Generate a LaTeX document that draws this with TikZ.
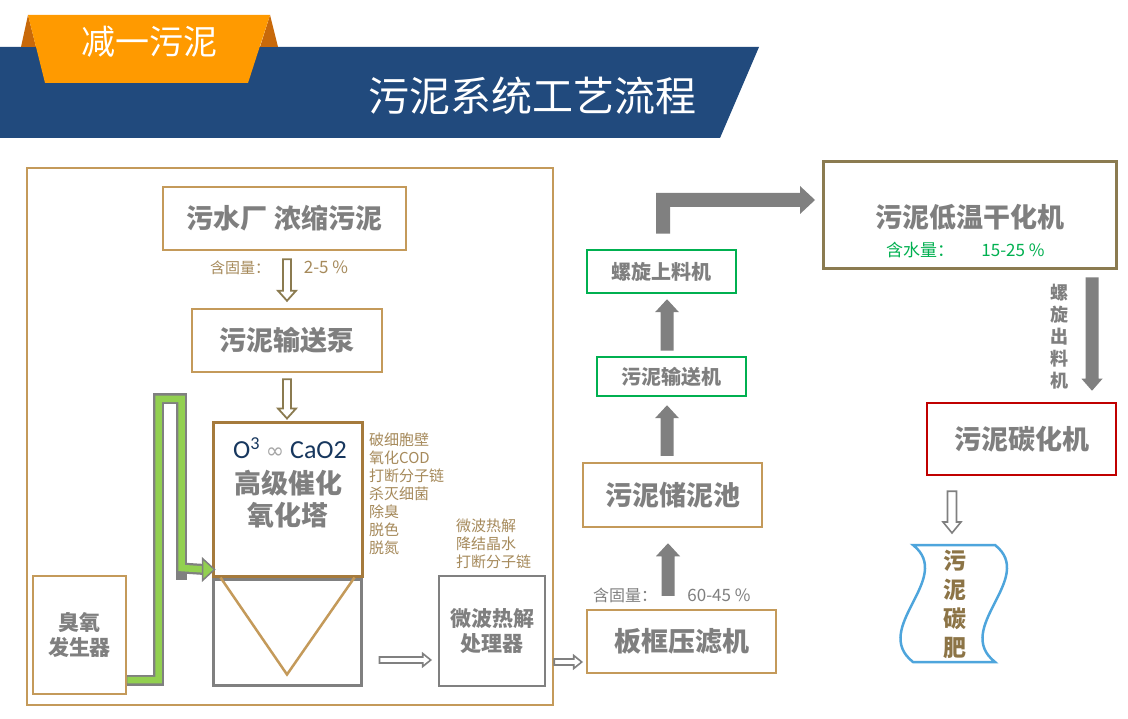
\documentclass[tikz,border=0pt]{standalone}
\usepackage{fontspec}
\setmainfont{Noto Sans CJK SC}
\newfontfamily\carlito{Carlito}
\newfontfamily\dejavu{DejaVu Sans}
\usetikzlibrary{calc}

\definecolor{bandblue}{HTML}{214A7D}
\definecolor{taborange}{HTML}{FF9A00}
\definecolor{tabdark}{HTML}{C8690A}
\definecolor{tanline}{HTML}{C49A5A}
\definecolor{brownline}{HTML}{A57A3C}
\definecolor{oliveline}{HTML}{8B7B50}
\definecolor{boxgray}{HTML}{808080}
\definecolor{txtgray}{HTML}{7F7F7F}
\definecolor{txttan}{HTML}{A68A5B}
\definecolor{lidgreen}{HTML}{00B050}
\definecolor{pipegreen}{HTML}{92D050}
\definecolor{carbred}{HTML}{C00000}
\definecolor{fertblue}{HTML}{4EA5DC}
\definecolor{fertbrown}{HTML}{8C7446}
\definecolor{oxnavy}{HTML}{17375E}
\definecolor{swirlgray}{HTML}{A6A6A6}

% block arrow: style, from, to, half shaft, half head, head length
\newcommand{\blockarrow}[6]{%
  \coordinate (ba-h) at ($(#3)!#6!(#2)$);
  \filldraw[#1] ($(#2)!#4!90:(#3)$) -- ($(ba-h)!#4!90:(#3)$) -- ($(ba-h)!#5!90:(#3)$) -- (#3)
    -- ($(ba-h)!#5!-90:(#3)$) -- ($(ba-h)!#4!-90:(#3)$) -- ($(#2)!#4!-90:(#3)$) -- cycle;}

\tikzset{
  tanbox/.style={draw=tanline, line width=2.5pt, inner sep=0pt, text=txtgray, font=\fontsize{27}{27}\selectfont\bfseries},
  graybox/.style={draw=boxgray, line width=3pt, inner sep=0pt, text=txtgray, font=\fontsize{21}{25}\selectfont\bfseries},
  greenbox/.style={draw=lidgreen, line width=2.5pt, inner sep=0pt, text=txtgray, font=\fontsize{20}{20}\selectfont\bfseries},
  boldtxt/.style={text=txtgray, inner sep=0pt, font=\fontsize{27}{32}\selectfont\bfseries},
  sidetxt/.style={text=txttan, inner sep=0pt, anchor=west, font=\fontsize{15}{18}\selectfont},
  hollowolive/.style={draw=oliveline, fill=white, line width=1.8pt},
  hollowgray/.style={draw=boxgray, fill=white, line width=1.6pt},
  solidgray/.style={fill=boxgray, draw=none}
}

\begin{document}
\begin{tikzpicture}[x=1pt,y=-1pt]
\useasboundingbox (0,0) rectangle (1128,719);
\fill[white] (0,0) rectangle (1128,719);

% header
\fill[bandblue] (0,47) -- (759,47) -- (720,138) -- (0,138) -- cycle;
\fill[tabdark] (28,15) -- (21,47) -- (36,47) -- cycle;
\fill[tabdark] (270,15) -- (278,47) -- (260,47) -- cycle;
\fill[taborange] (28,15) -- (270,15) -- (248,83) -- (45,83) -- cycle;
\node[text=white, font=\fontsize{34}{34}\selectfont] (tab) at (149,42) {减一污泥};
\node[text=white, font=\fontsize{41}{41}\selectfont] (title) at (532,96) {污泥系统工艺流程};

% pre-treatment frame
\node[draw=tanline, line width=2.5pt, minimum width=526, minimum height=537] (frame) at (290,436.5) {};

\node[tanbox, minimum width=243, minimum height=63] (src) at (284.5,218.5) {污水厂 浓缩污泥};
\node[tanbox, minimum width=190, minimum height=63] (pump) at (287,340.5) {污泥输送泵};
\node[draw=brownline, line width=3pt, minimum width=149, minimum height=153] (tower) at (287.5,499.5) {};
\node[draw=boxgray, line width=3pt, minimum width=148, minimum height=106] (hopper) at (287,632) {};
\node[tanbox, font=\fontsize{21}{25}\selectfont\bfseries, align=center, minimum width=93, minimum height=118] (gen) at (79.5,635) {臭氧\\发生器};
\node[graybox, line width=2.5pt, align=center, minimum width=106, minimum height=110] (micro) at (492,631) {微波热解\\处理器};

\node[text=oxnavy, inner sep=0pt, font=\fontsize{26}{26}\selectfont\carlito] (oxline) at (290,448) {O\textsuperscript{3} {\dejavu\fontsize{22}{22}\selectfont\color{swirlgray}∞} CaO2};
\node[boldtxt, align=center] (towertxt) at (288,499) {高级催化\\氧化塔};
\draw[tanline, line width=2.5pt] ($(hopper.north west)+(9,0)$) -- ($(hopper.south)+(0,-12)$) -- ($(hopper.north east)+(-8,0)$);

\node[text=txttan, font=\fontsize{15}{15}\selectfont] (solid1) at (240,268) {含固量：};
\node[text=txttan, font=\fontsize{17}{17}\selectfont] (solid1v) at (326,267) {2-5 \%};

\foreach \t [count=\i] in {破细胞壁,氧化COD,打断分子链,杀灭细菌,除臭,脱色,脱氮}
  \node[sidetxt] (fx\i) at (369,422+18*\i) {\t};
\foreach \t [count=\i] in {微波热解,降结晶水,打断分子链}
  \node[sidetxt] (mw\i) at (456,508+18*\i) {\t};

% ozone pipe
\coordinate (pipestart) at ($(gen.east)+(0,45)$);
\coordinate (pipeend) at ($(tower.south west)+(3,-8)$);
\draw[boxgray, line width=11pt] (pipestart) -| (158.5,399) -| (181.5,580);
\draw[boxgray, line width=11pt] (181.5,568) -- ($(pipeend)+(-10,0)$);
\draw[pipegreen, line width=6.5pt] (pipestart) -| (158.5,399) -| (181.5,568) -- ($(pipeend)+(-10,0)$);
\filldraw[fill=pipegreen, draw=boxgray, line width=1.5pt] ($(pipeend)+(-12,-11)$) -- (pipeend) -- ($(pipeend)+(-12,11)$) -- cycle;

% dewatering line
\node[tanbox, minimum width=189, minimum height=63] (filt) at (681.5,641.5) {板框压滤机};
\node[tanbox, minimum width=179, minimum height=64] (stor) at (672.5,495) {污泥储泥池};
\node[greenbox, minimum width=149, minimum height=39] (conv) at (671.5,376.5) {污泥输送机};
\node[greenbox, minimum width=149, minimum height=43] (lift) at (661.5,271.5) {螺旋上料机};
\node[text=txtgray, font=\fontsize{16}{16}\selectfont] (solid2) at (625,595) {含固量：};
\node[text=txtgray, font=\fontsize{17}{17}\selectfont] (solid2v) at (719,595) {60-45 \%};

% drying and carbonising
\node[draw=oliveline, line width=3pt, minimum width=293, minimum height=107] (dry) at (969.5,215.5) {};
\node[boldtxt] (drytxt) at (970,217) {污泥低温干化机};
\node[text=lidgreen, font=\fontsize{17}{17}\selectfont] (water) at (920,250) {含水量：};
\node[text=lidgreen, font=\fontsize{17}{17}\selectfont] (waterv) at (1013,250) {15-25 \%};
\node[draw=carbred, line width=2.5pt, minimum width=189, minimum height=72, boldtxt] (carb) at (1021.5,439) {污泥碳化机};
\node[text=txtgray, align=center, inner sep=0pt, font=\fontsize{18}{22}\selectfont\bfseries] (outlbl) at (1059,336.5) {螺\\旋\\出\\料\\机};

\coordinate (fert) at (954,545);
\draw[fertblue, line width=2.5pt, fill=white] (fert) ++(-41,0) -- ++(82,0)
  .. controls (1037,578) and (952,628) .. (995,662) -- (913,662)
  .. controls (870,628) and (955,578) .. (913,545) -- cycle;
\node[text=fertbrown, align=center, inner sep=0pt, font=\fontsize{23}{29}\selectfont\bfseries] (ferttxt) at (955,604) {污\\泥\\碳\\肥};

% arrows
\coordinate (a1s) at ($(src.south -| pump.north)+(0,8)$);
\coordinate (a1t) at ($(pump.north)+(0,-7)$);
\coordinate (a2s) at ($(pump.south)+(0,6)$);
\coordinate (a2t) at ($(tower.north)+(-0.5,-3)$);
\coordinate (a3s) at ($(hopper.east)+(17,28)$);
\coordinate (a3t) at ($(micro.west |- a3s)+(-7,0)$);
\coordinate (a4s) at ($(micro.east)+(8,31)$);
\coordinate (a4t) at ($(filt.west |- a4s)+(-4,0)$);
\coordinate (a5s) at ($(filt.north)+(-13.5,-13)$);
\coordinate (a5t) at ($(stor.south)+(-4.5,15)$);
\coordinate (a6s) at ($(stor.north)+(-5.5,-6)$);
\coordinate (a6t) at ($(conv.south)+(-4.5,8)$);
\coordinate (a7s) at ($(conv.north)+(-4.5,-5)$);
\coordinate (a7t) at ($(lift.south)+(5.5,5)$);
\coordinate (a8s) at ($(dry.south)+(122.5,7)$);
\coordinate (a8t) at ($(carb.north)+(70.5,-11)$);
\coordinate (a9s) at ($(carb.south)+(-69.5,15)$);
\coordinate (a9t) at ($(fert)+(-2,-12)$);

\blockarrow{hollowolive}{a1s}{a1t}{4pt}{9pt}{10pt}
\blockarrow{hollowolive}{a2s}{a2t}{4pt}{9pt}{10pt}
\blockarrow{hollowgray}{a3s}{a3t}{3pt}{6.5pt}{8pt}
\blockarrow{hollowgray}{a4s}{a4t}{3pt}{6.5pt}{8pt}
\blockarrow{solidgray}{a5s}{a5t}{6.5pt}{12pt}{13pt}
\blockarrow{solidgray}{a6s}{a6t}{6.5pt}{12pt}{13pt}
\blockarrow{solidgray}{a7s}{a7t}{6.5pt}{12pt}{13pt}
\blockarrow{solidgray}{a8s}{a8t}{6.5pt}{10.5pt}{12pt}
\blockarrow{hollowgray}{a9s}{a9t}{4.5pt}{9pt}{11pt}
\fill[boxgray] ($(lift.north)+(-5.5,-15)$) -- (656,193) -- (800,193) -- (800,186) -- (815,200)
  -- (800,214) -- (800,207) -- (670,207) -- ($(lift.north)+(8.5,-15)$) -- cycle;
\end{tikzpicture}
\end{document}
